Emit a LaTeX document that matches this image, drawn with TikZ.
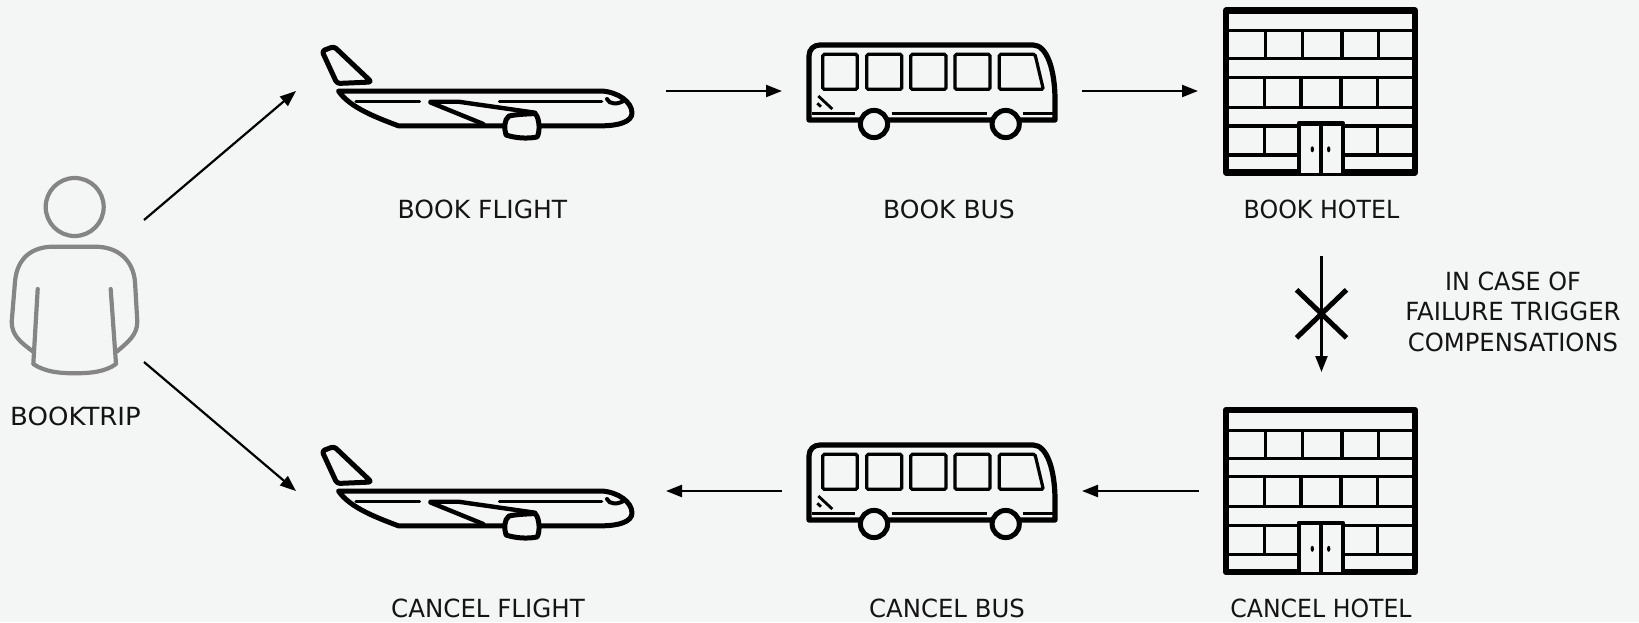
\documentclass[tikz,border=0pt]{standalone}
\usepackage{fontspec}
\setmainfont{DejaVu Sans}
\usetikzlibrary{arrows.meta,shapes.misc}
\definecolor{bgc}{HTML}{F4F6F5}
\definecolor{persongray}{HTML}{858585}
\tikzset{
  hidden/.style={inner sep=0pt,outer sep=0pt,minimum width=#1},
  lab/.style={font=\fontsize{25}{30.5}\selectfont,text=black!92,inner sep=0pt,outer sep=0pt,align=center},
  conn/.style={line width=2.2pt,-{Triangle[length=16pt,width=12pt]},black},
  pics/planeicon/.style={code={
    \draw[line width=5pt,line join=round,rounded corners=3pt] (322,51)--(334,46.5)--(371.5,82)--(337,83.5)--cycle;
    \draw[line width=5pt,line join=round,line cap=round]
      (338.5,91)--(601.7,91) .. controls (618,92) and (632,102) .. (632,113)
      .. controls (632,122) and (618,125.8) .. (601.7,125.8) -- (398.3,125.8)
      .. controls (378,118) and (350,108) .. (338.5,91) -- cycle;
    \draw[line width=3.2pt,line cap=round] (356,101.7)--(419.5,101.7) (499.5,101.7)--(601.7,101.7);
    \draw[line width=4pt,line cap=round] (607,99) .. controls (609,104.5) and (618,105) .. (625,100);
    \draw[line width=4.4pt,line join=round,line cap=round] (430.5,101.7)--(458.3,101.7)--(535,112.7)
      (430.5,102.5)--(483.3,124);
    \draw[line width=5pt,line join=round,fill=bgc]
      (509,116) .. controls (518,114) and (530,114) .. (535,113.5)
      .. controls (540,118) and (540,133) .. (537,137)
      .. controls (527,139) and (515,138) .. (506,135)
      .. controls (504,128) and (504,120) .. (509,116) -- cycle;
  }},
  pics/busicon/.style={code={
    \draw[line width=5.2pt,line join=round]
      (809,120)--(809,56) .. controls (809,49) and (814,45) .. (820,45)
      -- (1033,45) .. controls (1047,45) and (1055,70) .. (1055,100) -- (1055,120) -- cycle;
    \draw[line width=3.2pt,rounded corners=1.5pt] (822.7,54.3) rectangle (857.3,89.3);
    \draw[line width=3.2pt,rounded corners=1.5pt] (866.7,54.3) rectangle (901.7,89.3);
    \draw[line width=3.2pt,rounded corners=1.5pt] (910.7,54.3) rectangle (946,89.3);
    \draw[line width=3.2pt,rounded corners=1.5pt] (955,54.3) rectangle (990,89.3);
    \draw[line width=3.2pt,rounded corners=1.5pt] (999.3,54.3)--(1035,54.3)--(1043.3,89.3)--(999.3,89.3)--cycle;
    \draw[line width=2.6pt] (811.7,113.3)--(855,113.3) (891.7,113.3)--(987.3,113.3) (1023.3,113.3)--(1053,113.3);
    \draw[line width=2.8pt] (818.3,96)--(832.3,109) (817.3,103.3)--(821,106.7);
    \draw[line width=5pt,fill=bgc] (874,124) circle[radius=13.6pt] (1005.7,124) circle[radius=13.6pt];
  }},
  pics/hotelicon/.style={code={
    \draw[line width=3.2pt]
      (1226,30.7)--(1415,30.7) (1226,58.7)--(1415,58.7) (1226,77.3)--(1415,77.3) (1226,107.3)--(1415,107.3)
      (1226,126)--(1415,126) (1226,155)--(1415,155)
      (1265.7,30.7)--(1265.7,58.7) (1302.3,30.7)--(1302.3,58.7) (1342,30.7)--(1342,58.7) (1378.3,30.7)--(1378.3,58.7)
      (1264.7,77.3)--(1264.7,107.3) (1301,77.3)--(1301,107.3) (1341,77.3)--(1341,107.3) (1377.3,77.3)--(1377.3,107.3)
      (1264.7,126)--(1264.7,155) (1377.3,126)--(1377.3,155);
    \draw[line width=6.4pt,line join=round] (1226,10.5) rectangle (1415,172.5);
    \draw[line width=4.6pt,line join=round,fill=bgc] (1298.8,172.5)--(1298.8,123.4)--(1342.9,123.4)--(1342.9,172.5);
    \draw[line width=4.6pt] (1320.8,123.4)--(1320.8,172.5);
    \fill (1312.3,149.3) ellipse[x radius=1.7pt,y radius=3pt] (1328.7,149.3) ellipse[x radius=1.7pt,y radius=3pt];
  }}
}
\begin{document}
\begin{tikzpicture}[x=1pt,y=-1pt]
\useasboundingbox (0,0) rectangle (1639,622);
\fill[bgc] (0,0) rectangle (1639,622);
% person
\begin{scope}[persongray,line width=4.2pt,line join=round,line cap=round]
  \draw (74.7,207) circle[radius=29pt];
  \draw (33.3,351.7) .. controls (20,342) and (11.7,335) .. (11.7,321.7)
    -- (15,281.7) .. controls (17,258) and (32,246.7) .. (53.3,246.7) -- (95,246.7)
    .. controls (118,246.7) and (133,260) .. (135,281.7) -- (137.3,321.7)
    .. controls (137.3,335) and (128,342) .. (116.7,351.7);
  \draw (37.7,289)--(33.3,364) .. controls (45,372) and (60,373.3) .. (74.7,373.3)
    .. controls (90,373.3) and (105,372) .. (116,364)--(110.7,289);
\end{scope}
% icons
\pic {planeicon};
\pic at (0,400) {planeicon};
\pic {busicon};
\pic at (0,400) {busicon};
\pic {hotelicon};
\pic at (0,399.5) {hotelicon};
% anchor nodes
\node[hidden=132pt,minimum height=142pt] (person) at (78,291) {};
\node[hidden=370pt,minimum height=100pt] (flightA) at (481,91) {};
\node[hidden=300pt,minimum height=100pt] (busA) at (932,91) {};
\node[hidden=246pt,minimum height=100pt] (hotelA) at (1321,91) {};
\node[hidden=370pt,minimum height=100pt] (flightB) at (481,491) {};
\node[hidden=300pt,minimum height=100pt] (busB) at (932,491) {};
\node[hidden=246pt,minimum height=238pt] (hotelB) at (1321.5,491) {};
% labels
\node[lab] (lbooktrip) at (75.5,416) {\scalebox{1.04}[1]{BOOKTRIP}};
\node[lab] (lbf) at (482.5,209) {BOOK FLIGHT};
\node[lab] (lbb) at (949,209) {BOOK BUS};
\node[lab,minimum height=94pt] (lbh) at (1321.5,209) {\scalebox{0.95}[1]{BOOK HOTEL}};
\node[lab] (lcf) at (488,608) {\scalebox{0.98}[1]{CANCEL FLIGHT}};
\node[lab] (lcb) at (947,608) {\scalebox{0.975}[1]{CANCEL BUS}};
\node[lab] (lch) at (1321,608) {\scalebox{0.945}[1]{CANCEL HOTEL}};
\node[lab] (lfail) at (1513,311.5) {\scalebox{0.955}[1]{IN CASE OF}\\\scalebox{0.976}[1]{FAILURE TRIGGER}\\\scalebox{0.97}[1]{COMPENSATIONS}};
% connectors
\draw[conn] (person.north east) -- (flightA.west);
\draw[conn] (person.south east) -- (flightB.west);
\draw[conn] (flightA.east) -- (busA.west);
\draw[conn] (busA.east) -- (hotelA.west);
\draw[conn] (lbh.south) -- (hotelB.north);
\draw[conn] (hotelB.west) -- (busB.east);
\draw[conn] (busB.west) -- (flightB.east);
\node[cross out,draw=black,line width=5pt,inner sep=0pt,outer sep=0pt,minimum width=50pt,minimum height=48pt] (failx) at (1321.5,313.8) {};
\end{tikzpicture}
\end{document}
